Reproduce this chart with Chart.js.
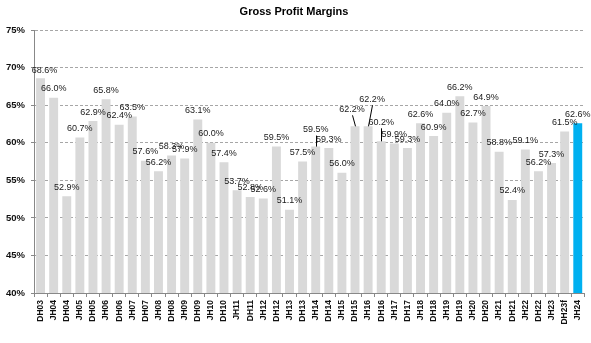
<!DOCTYPE html>
<html>
<head>
<meta charset="utf-8">
<script src="https://cdn.jsdelivr.net/npm/chart.js@4"></script>
<style>
  html, body { margin: 0; padding: 0; background: #fff; }
  #wrap { width: 591px; height: 343px; }
</style>
</head>
<body>
<div id="wrap"><canvas id="chart"></canvas></div>
<script>
// half-year periods
var periods = ['DH03','JH04','DH04','JH05','DH05','JH06','DH06','JH07','DH07','JH08',
  'DH08','JH09','DH09','JH10','DH10','JH11','DH11','JH12','DH12','JH13',
  'DH13','JH14','DH14','JH15','DH15','JH16','DH16','JH17','DH17','JH18',
  'DH18','JH19','DH19','JH20','DH20','JH21','DH21','JH22','DH22','JH23',
  'DH23f','JH24'];

// gross profit margin, %
var margins = [68.6, 66.0, 52.9, 60.7, 62.9, 65.8, 62.4, 63.5, 57.6, 56.2,
  58.3, 57.9, 63.1, 60.0, 57.4, 53.7, 52.8, 52.6, 59.5, 51.1,
  57.5, 59.5, 59.3, 56.0, 62.2, 62.2, 60.2, 59.9, 59.3, 62.6,
  60.9, 64.0, 66.2, 62.7, 64.9, 58.8, 52.4, 59.1, 56.2, 57.3,
  61.5, 62.6];

var yTicks = [40, 45, 50, 55, 60, 65, 70, 75];

var barColors = periods.map(function(p, i){
  return i === periods.length - 1 ? '#00B0F0' : '#D9D9D9';
});

// hand-moved labels (dx, dy, leader line), as in the excel original
var labelNudge = {
  'DH03': [4, 1, false],
  'JH14': [0, -8, true],
  'DH15': [-3, -8, true],
  'JH16': [4, -18, true],
  'DH16': [0, -10, true]
};

var dataLabels = {
  id: 'dataLabels',
  afterDatasetsDraw: function(chart) {
    var ctx = chart.ctx;
    var meta = chart.getDatasetMeta(0);
    ctx.save();
    ctx.font = '9px "Liberation Sans", Arial, sans-serif';
    ctx.fillStyle = '#1a1a1a';
    ctx.textAlign = 'center';
    ctx.textBaseline = 'middle';
    meta.data.forEach(function(bar, i){
      var nudge = labelNudge[periods[i]] || [0, 0, false];
      var lx = bar.x + nudge[0];
      var ly = bar.y - 9 + nudge[1];
      if (nudge[2]) {
        ctx.strokeStyle = '#000';
        ctx.lineWidth = 1;
        ctx.beginPath();
        ctx.moveTo(Math.round(lx) + 0.5, ly + 6);
        ctx.lineTo(Math.round(bar.x) + 0.5, bar.y);
        ctx.stroke();
      }
      ctx.fillText(margins[i].toFixed(1) + '%', lx, ly);
    });
    ctx.restore();
  }
};

var ctx = document.getElementById('chart');
var chart = new Chart(ctx, {
  type: 'bar',
  data: {
    labels: periods,
    datasets: [{
      label: 'Gross Profit Margins',
      data: margins,
      backgroundColor: barColors,
      borderWidth: 0,
      categoryPercentage: 1.0,
      barPercentage: 0.68
    }]
  },
  options: {
    animation: false,
    responsive: true,
    maintainAspectRatio: false,
    layout: { padding: { left: 0, right: 3, top: 0, bottom: 0 } },
    plugins: {
      legend: { display: false },
      tooltip: { enabled: false },
      title: {
        display: true,
        text: 'Gross Profit Margins',
        color: '#000',
        font: { family: '"Liberation Sans", Arial, sans-serif', size: 11, weight: 'bold' },
        padding: { top: 5, bottom: 12 }
      }
    },
    scales: {
      x: {
        afterFit: function(scale){ scale.height = 50; },
        grid: {
          display: true,
          drawOnChartArea: false,
          drawTicks: true,
          tickLength: 4,
          color: '#888'
        },
        border: { display: true, color: '#888', width: 1 },
        ticks: {
          autoSkip: false,
          maxRotation: 90,
          minRotation: 90,
          padding: 3,
          color: '#111',
          font: { family: '"Liberation Sans", Arial, sans-serif', size: 8.5, weight: 'bold' }
        }
      },
      y: {
        min: yTicks[0],
        max: yTicks[yTicks.length - 1],
        afterFit: function(scale){ scale.width = 34; },
        afterBuildTicks: function(scale){
          scale.ticks = yTicks.map(function(v){ return { value: v }; });
        },
        grid: {
          color: '#a6a6a6',
          drawTicks: true,
          tickLength: 3,
          tickBorderDash: [],
          tickColor: '#888'
        },
        border: { display: true, color: '#888', width: 1, dash: [3, 2] },
        ticks: {
          padding: 6,
          color: '#111',
          font: { family: '"Liberation Sans", Arial, sans-serif', size: 9.5, weight: 'bold' },
          callback: function(v){ return v + '%'; }
        }
      }
    }
  },
  plugins: [dataLabels]
});
</script>
</body>
</html>
